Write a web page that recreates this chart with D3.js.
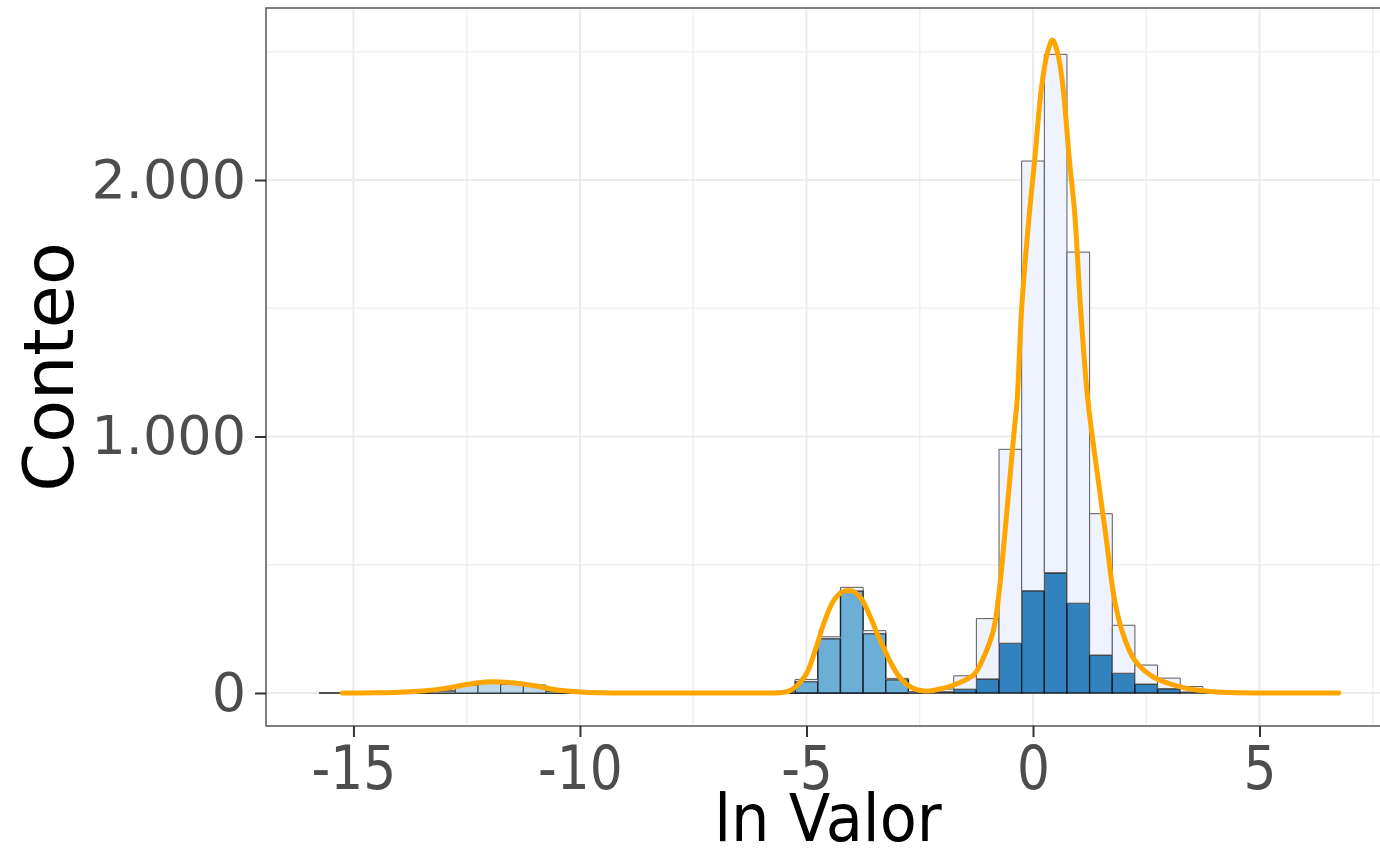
<!DOCTYPE html>
<html>
<head>
<meta charset="utf-8">
<script src="https://cdn.jsdelivr.net/npm/d3@7"></script>
<style>
  body { margin: 0; background: #fff; }
  text { font-family: "DejaVu Sans", sans-serif; }
</style>
</head>
<body>
<div id="chart"></div>
<script>
// histogram bins (mid points, binwidth 0.5)
var binMid = [-15.5, -15, -14.5, -14, -13.5, -13, -12.5, -12, -11.5, -11,
              -10.5, -10, -9.5, -9, -8.5, -8, -7.5, -7, -6.5, -6,
              -5.5, -5, -4.5, -4, -3.5, -3, -2.5, -2, -1.5, -1,
              -0.5, 0, 0.5, 1, 1.5, 2, 2.5, 3, 3.5, 4];
var binWidth = 0.5;

// counts per group (stacked, bottom to top)
var countDark = [0, 0, 0, 0, 0, 0, 0, 0, 0, 0,
                 0, 0, 0, 0, 0, 0, 0, 0, 0, 0,
                 0, 0, 0, 0, 0, 0, 1, 5, 15, 55,
                 194, 399, 469, 350, 148, 77, 35, 17, 4, 0];
var countMedium = [0, 0, 0, 0, 0, 0, 0, 0, 0, 0,
                   0, 0, 0, 0, 0, 0, 0, 0, 0, 0,
                   3, 45, 212, 398, 232, 52, 2, 0, 0, 0,
                   0, 0, 0, 0, 0, 0, 0, 0, 0, 0];
var countLight = [0, 0, 1, 1, 2, 8, 32, 38, 34, 30,
                  6, 1, 0, 0, 0, 0, 0, 0, 0, 0,
                  0, 0, 0, 0, 0, 0, 0, 0, 0, 0,
                  0, 0, 0, 0, 0, 0, 0, 0, 0, 0];
var countLightest = [0, 0, 0, 0, 0, 0, 0, 0, 0, 0,
                     0, 0, 0, 0, 0, 0, 0, 0, 0, 0,
                     0, 8, 7, 14, 11, 5, 2, 10, 52, 235,
                     756, 1675, 2021, 1369, 551, 187, 74, 41, 21, 2];

var groupKeys = ["dark", "medium", "light", "lightest"];
var groupFill = ["#3182BD", "#6BAED6", "#BDD7E7", "#EFF3FF"];
var groupStroke = ["#16202b", "#16202b", "#3a3f45", "#5a5a5a"];

// density curve (scaled to counts)
var densX = [-15.25, -14.5, -14.0, -13.5, -13.0, -12.5, -12.0, -11.5, -11.0, -10.5,
             -10.0, -9.5, -9.0, -6.0, -5.6, -5.4, -5.2, -5.0, -4.8, -4.6,
             -4.4, -4.2, -4.0, -3.8, -3.6, -3.4, -3.2, -3.0, -2.8, -2.6,
             -2.4, -2.2, -2.0, -1.8, -1.6, -1.3, -1.1, -0.88, -0.75, -0.62,
             -0.42, -0.35, -0.25, -0.08, 0.03, 0.19, 0.31, 0.43, 0.55, 0.66,
             0.81, 0.92, 1.05, 1.21, 1.4, 1.6, 1.8, 1.98, 2.24, 2.64,
             3.23, 3.7, 4.2, 5.0, 6.75];
var densY = [0, 1, 3, 8, 17, 33, 44, 40, 28, 12,
             4, 1, 0, 0, 1, 6, 30, 75, 170, 280,
             360, 395, 398, 370, 300, 215, 140, 75, 35, 15,
             8, 10, 18, 28, 42, 72, 135, 240, 390, 624,
             1014, 1142, 1500, 1870, 2065, 2364, 2490, 2546, 2490, 2364,
             2065, 1870, 1500, 1142, 881, 624, 363, 234, 129, 64,
             25, 10, 3, 0, 0];

var xTicks = [-15, -10, -5, 0, 5];
var xMinor = [-12.5, -7.5, -2.5, 2.5, 7.5];
var yTicks = [0, 1000, 2000];
var yMinor = [500, 1500, 2500];

var width = 1380, height = 856;
var panel = { left: 266, top: 8, right: 1390, bottom: 726 };

var x = d3.scaleLinear().domain([-16.93, 7.88]).range([panel.left, panel.right]);
var y = d3.scaleLinear().domain([-128.7, 2670.6]).range([panel.bottom, panel.top]);

var locale = d3.formatLocale({ decimal: ",", thousands: ".", grouping: [3], currency: ["", "€"] });
var fmt = locale.format(",");

var svg = d3.select("#chart").append("svg")
    .attr("width", width)
    .attr("height", height);

svg.append("rect").attr("width", width).attr("height", height).attr("fill", "#fff");

svg.append("defs").append("clipPath")
    .attr("id", "clip")
    .append("rect")
    .attr("x", panel.left)
    .attr("y", panel.top)
    .attr("width", panel.right - panel.left)
    .attr("height", panel.bottom - panel.top);

var plot = svg.append("g").attr("clip-path", "url(#clip)");

// minor gridlines
plot.append("g").selectAll("line").data(xMinor).enter().append("line")
    .attr("x1", function (d) { return x(d); })
    .attr("x2", function (d) { return x(d); })
    .attr("y1", panel.top).attr("y2", panel.bottom)
    .attr("stroke", "#F0F0F0").attr("stroke-width", 1.5);
plot.append("g").selectAll("line").data(yMinor).enter().append("line")
    .attr("y1", function (d) { return y(d); })
    .attr("y2", function (d) { return y(d); })
    .attr("x1", panel.left).attr("x2", panel.right)
    .attr("stroke", "#F0F0F0").attr("stroke-width", 1.5);

// major gridlines
plot.append("g").selectAll("line").data(xTicks).enter().append("line")
    .attr("x1", function (d) { return x(d); })
    .attr("x2", function (d) { return x(d); })
    .attr("y1", panel.top).attr("y2", panel.bottom)
    .attr("stroke", "#EBEBEB").attr("stroke-width", 2);
plot.append("g").selectAll("line").data(yTicks).enter().append("line")
    .attr("y1", function (d) { return y(d); })
    .attr("y2", function (d) { return y(d); })
    .attr("x1", panel.left).attr("x2", panel.right)
    .attr("stroke", "#EBEBEB").attr("stroke-width", 2);

// stacked histogram
var rows = binMid.map(function (m, i) {
    return { mid: m, dark: countDark[i], medium: countMedium[i], light: countLight[i], lightest: countLightest[i] };
});
var stacked = d3.stack().keys(groupKeys)(rows);

var layers = plot.append("g").attr("class", "bars").selectAll("g")
    .data(stacked).enter().append("g")
    .attr("fill", function (d, i) { return groupFill[i]; })
    .attr("stroke", function (d, i) { return groupStroke[i]; })
    .attr("stroke-width", function (d, i) { return i < 2 ? 1.4 : 1; });

layers.selectAll("path").data(function (d) { return d; }).enter().append("path")
    .attr("d", function (d) {
        var x0 = x(d.data.mid - binWidth / 2), x1 = x(d.data.mid + binWidth / 2);
        var y0 = y(d[0]), y1 = y(d[1]);
        return "M" + x0 + "," + y0 + "H" + x1 + "V" + y1 + "H" + x0 + "Z";
    });

// density line
var line = d3.line()
    .curve(d3.curveCatmullRom.alpha(0.5))
    .x(function (d) { return x(d[0]); })
    .y(function (d) { return y(d[1]); });

plot.append("path")
    .datum(densX.map(function (v, i) { return [v, densY[i]]; }))
    .attr("d", line)
    .attr("fill", "none")
    .attr("stroke", "#FFA500")
    .attr("stroke-width", 5)
    .attr("stroke-linejoin", "round")
    .attr("stroke-linecap", "round");

// panel border
svg.append("rect")
    .attr("x", panel.left).attr("y", panel.top)
    .attr("width", panel.right - panel.left)
    .attr("height", panel.bottom - panel.top)
    .attr("fill", "none")
    .attr("stroke", "#555")
    .attr("stroke-width", 1.5);

// axes
var gx = svg.append("g")
    .attr("transform", "translate(0," + panel.bottom + ")")
    .call(d3.axisBottom(x).tickValues(xTicks).tickSize(11).tickFormat(function (d) { return d; }));
gx.select(".domain").remove();
gx.selectAll(".tick line").attr("stroke", "#333").attr("stroke-width", 2);
gx.selectAll(".tick text")
    .attr("y", 63).attr("dy", null)
    .attr("transform", "scale(0.85,1)")
    .style("font-size", "61px")
    .attr("fill", "#4D4D4D");

var gy = svg.append("g")
    .attr("transform", "translate(" + panel.left + ",0)")
    .call(d3.axisLeft(y).tickValues(yTicks).tickSize(11).tickPadding(9).tickFormat(fmt));
gy.select(".domain").remove();
gy.selectAll(".tick line").attr("stroke", "#333").attr("stroke-width", 2);
gy.selectAll(".tick text")
    .style("font-size", "54px")
    .attr("fill", "#4D4D4D");

// axis titles
svg.append("text")
    .attr("transform", "translate(828,841) scale(0.92,1)")
    .style("text-anchor", "middle")
    .style("font-size", "66px")
    .attr("fill", "#000")
    .text("ln Valor");

svg.append("text")
    .attr("transform", "translate(73,367) rotate(-90)")
    .style("text-anchor", "middle")
    .style("font-size", "70px")
    .attr("fill", "#000")
    .text("Conteo");
</script>
</body>
</html>
